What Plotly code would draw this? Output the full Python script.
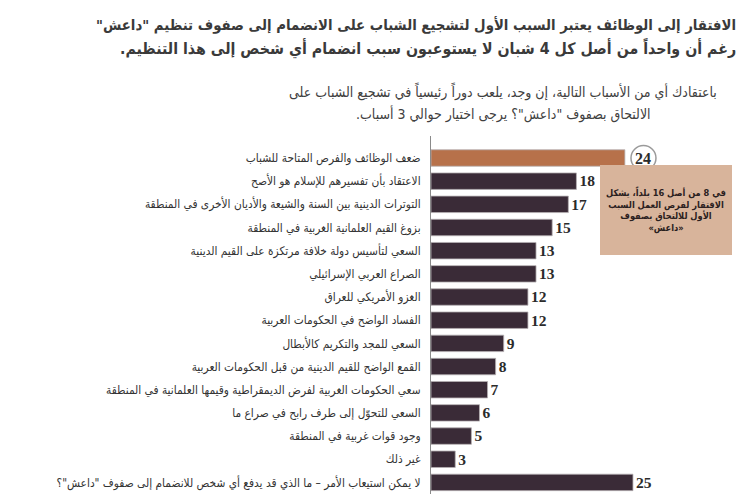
import plotly.graph_objects as go

RLM = "\u200f"
def rtl(s):
    return RLM + s + RLM

categories = [
    "ضعف الوظائف والفرص المتاحة للشباب",
    "الاعتقاد بأن تفسيرهم للإسلام هو الأصح",
    "التوترات الدينية بين السنة والشيعة والأديان الأخرى في المنطقة",
    "بزوغ القيم العلمانية الغربية في المنطقة",
    "السعي لتأسيس دولة خلافة مرتكزة على القيم الدينية",
    "الصراع العربي الإسرائيلي",
    "الغزو الأمريكي للعراق",
    "الفساد الواضح في الحكومات العربية",
    "السعي للمجد والتكريم كالأبطال",
    "القمع الواضح للقيم الدينية من قبل الحكومات العربية",
    "سعي الحكومات الغربية لفرض الديمقراطية وقيمها العلمانية في المنطقة",
    "السعي للتحوّل إلى طرف رابح في صراع ما",
    "وجود قوات غربية في المنطقة",
    "غير ذلك",
    "لا يمكن استيعاب الأمر – ما الذي قد يدفع أي شخص للانضمام إلى صفوف \"داعش\"؟",
]
values = [24, 18, 17, 15, 13, 13, 12, 12, 9, 8, 7, 6, 5, 3, 25]
highlight_index = 0

title_lines = [
    "الافتقار إلى الوظائف يعتبر السبب الأول لتشجيع الشباب على الانضمام إلى صفوف تنظيم \"داعش\"",
    "رغم أن واحداً من أصل كل 4 شبان لا يستوعبون سبب انضمام أي شخص إلى هذا التنظيم.",
]
subtitle_lines = [
    "باعتقادك أي من الأسباب التالية، إن وجد، يلعب دوراً رئيسياً في تشجيع الشباب على",
    "الالتحاق بصفوف \"داعش\"؟ يرجى اختيار حوالي 3 أسباب.",
]
note_lines = [
    "في 8 من أصل 16 بلداً، يشكل",
    "الافتقار لفرص العمل السبب",
    "الأول للالتحاق بصفوف",
    "«داعش»",
]

ORANGE = "#b7714a"
DARK = "#3a2b37"
AR_FONT = "DejaVu Sans Condensed, DejaVu Sans"
NUM_FONT = "Liberation Serif"

labels = [rtl(c) for c in categories]
colors = [ORANGE if i == highlight_index else DARK for i in range(len(values))]
texts = ["" if i == highlight_index else "<b>%d</b>" % v for i, v in enumerate(values)]

fig = go.Figure(go.Bar(
    x=values, y=labels, orientation="h",
    marker=dict(color=colors, line=dict(color="#b5b0b3", width=0.8)),
    width=0.71,
    text=texts, textposition="outside", cliponaxis=False,
    textfont=dict(family=NUM_FONT, size=16, color="#2b2b2b"),
    hoverinfo="skip",
))

fig.update_layout(
    width=745, height=501,
    margin=dict(l=423, r=15, t=128, b=15),
    paper_bgcolor="white", plot_bgcolor="white",
    showlegend=False,
    xaxis=dict(range=[0, 38], visible=False, automargin=False),
    yaxis=dict(
        autorange="reversed", showline=True, linecolor="#8a8a8a", linewidth=1,
        showgrid=False, zeroline=False, ticks="", ticklabelstandoff=7,
        automargin=False,
        tickfont=dict(family=AR_FONT, size=11.8, color="#333333"),
    ),
)

# highlight circle with value
cx = values[highlight_index] + 2.3
fig.add_shape(type="circle", xref="x", yref="y",
              xsizemode="pixel", ysizemode="pixel",
              xanchor=cx, yanchor=labels[highlight_index],
              x0=-12.5, x1=12.5, y0=-12.5, y1=12.5,
              line=dict(color="#9a9a9a", width=1.5), fillcolor="white")
fig.add_annotation(x=cx, y=labels[highlight_index], xref="x", yref="y",
                   text="<b>%d</b>" % values[highlight_index], showarrow=False,
                   xanchor="center", yanchor="middle",
                   font=dict(family=NUM_FONT, size=16, color="#2b2b2b"))
# small arrow down to note box
fig.add_annotation(x=cx, y=labels[highlight_index], xref="x", yref="y",
                   text="", showarrow=True, yshift=-19, ax=0, ay=-6,
                   arrowhead=2, arrowsize=1, arrowwidth=1, arrowcolor="#9a9a9a")

# note box (width follows its text so nothing is clipped)
fig.add_annotation(x=0.765, y=0.792, xref="paper", yref="paper",
                   xanchor="center", yanchor="middle",
                   text="<br>".join("<b>" + rtl(s) + "</b>" for s in note_lines),
                   showarrow=False, align="center",
                   height=78, borderpad=5,
                   bgcolor="#d8b49b", bordercolor="#d8b49b",
                   font=dict(family=AR_FONT, size=9.2, color="#2a2020"))

# titles
for s, yy, fs in zip(title_lines, [1.31, 1.245], [14.8, 15.8]):
    fig.add_annotation(x=1.0, y=yy, xref="paper", yref="paper", xanchor="right",
                       yanchor="middle", text="<b>" + rtl(s) + "</b>", showarrow=False,
                       font=dict(family=AR_FONT, size=fs, color="#3a3a3a"))
for s, yy in zip(subtitle_lines, [1.125, 1.062]):
    fig.add_annotation(x=0.235, y=yy, xref="paper", yref="paper", xanchor="center",
                       yanchor="middle", text=rtl(s), showarrow=False,
                       font=dict(family=AR_FONT, size=14, color="#404040"))

fig.write_html("out.html")
